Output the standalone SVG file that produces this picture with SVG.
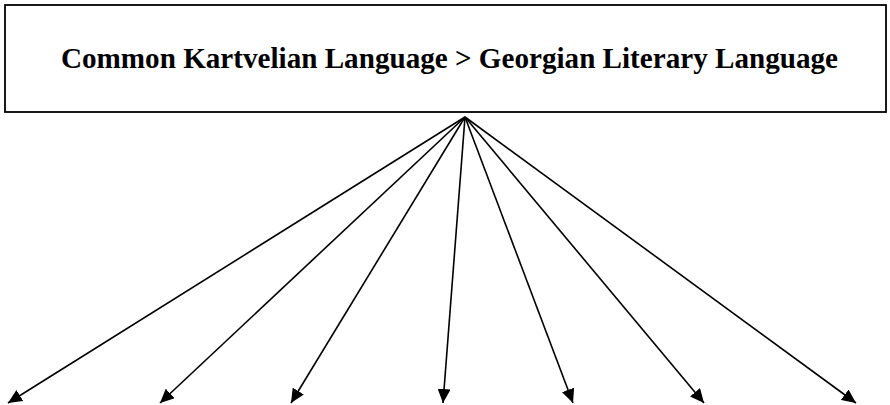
<svg xmlns="http://www.w3.org/2000/svg" width="890" height="405" viewBox="0 0 890 405">
<style>
.box{fill:#fff;stroke:#000;stroke-width:1.8}
.title{font-family:"Liberation Serif","Times New Roman",serif;font-weight:bold;font-size:29px;fill:#000}
.conn line{stroke:#000;stroke-width:1.6;marker-end:url(#ah)}
</style>
<defs>
<marker id="ah" viewBox="0 0 14 13" refX="14" refY="6.5" markerWidth="14" markerHeight="13" markerUnits="userSpaceOnUse" orient="auto">
<path d="M0,0 L14,6.5 L0,13 Z" fill="#000"/>
</marker>
</defs>
<rect width="890" height="405" fill="#fff"/>
<g id="root">
<rect class="box" x="5" y="5" width="881" height="107"/>
<text class="title" x="449.5" y="68" text-anchor="middle" textLength="777" lengthAdjust="spacingAndGlyphs">Common Kartvelian Language &gt; Georgian Literary Language</text>
</g>
<g id="connectors" class="conn">
<line x1="465" y1="117" x2="8" y2="403"/>
<line x1="465" y1="117" x2="160" y2="403"/>
<line x1="465" y1="117" x2="291" y2="403"/>
<line x1="465" y1="117" x2="443" y2="403"/>
<line x1="465" y1="117" x2="573" y2="403"/>
<line x1="465" y1="117" x2="704" y2="403"/>
<line x1="465" y1="117" x2="856" y2="403"/>
</g>
</svg>
